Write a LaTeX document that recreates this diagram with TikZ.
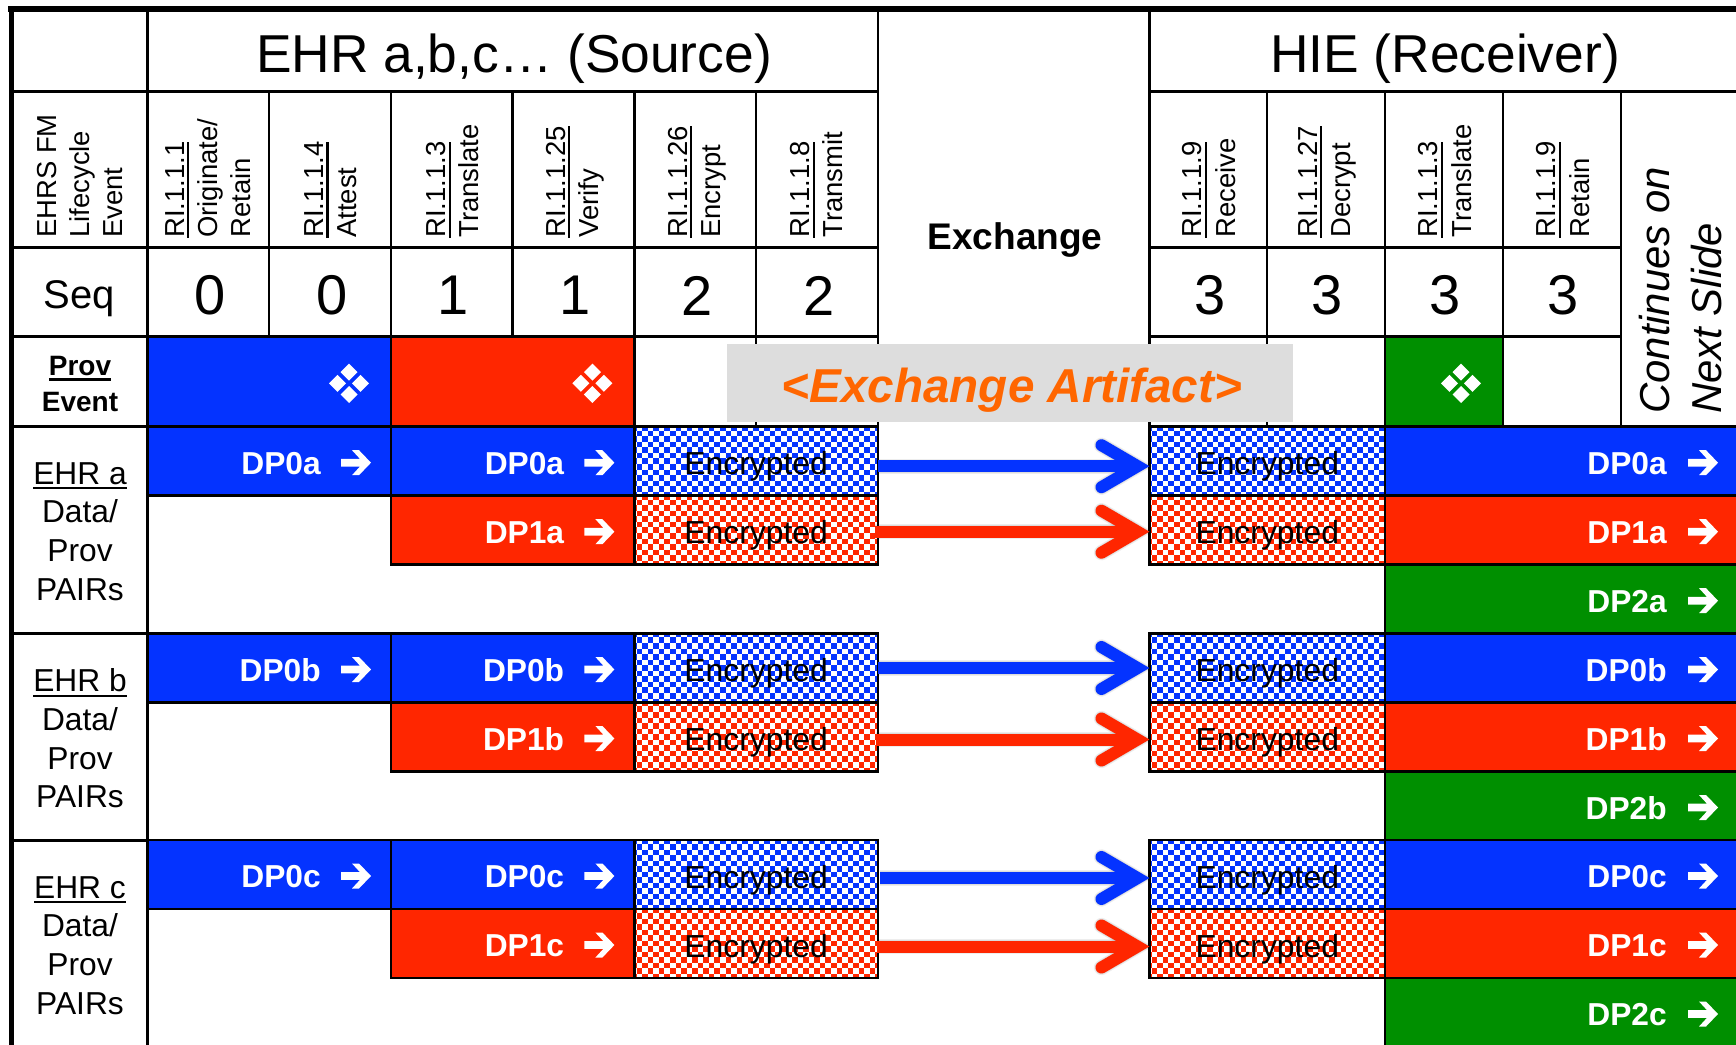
\documentclass[tikz,border=0pt]{standalone}
\usepackage{fontspec}
\setmainfont{Liberation Sans}
\usetikzlibrary{calc}
\definecolor{ablue}{HTML}{0433FF}
\definecolor{ared}{HTML}{FF2600}
\definecolor{agreen}{HTML}{008F00}
\definecolor{aorange}{HTML}{FF6600}
\definecolor{agray}{HTML}{DDDDDD}
\newsavebox\ulbox
\newcommand\ulx[1]{\sbox\ulbox{#1}\rlap{\rule[-3.8pt]{\wd\ulbox}{1.8pt}}\usebox\ulbox}
\tikzset{
  cellbox/.style={draw=black,line width=1.9pt,inner sep=0pt,outer sep=0pt},
  rotlabel/.style={rotate=90,anchor=west,align=left,inner sep=0pt,font=\fontsize{20.6}{24.8}\selectfont},
  seqnum/.style={inner sep=0pt,font=\fontsize{42}{50}\selectfont},
  headtext/.style={inner sep=0pt,font=\fontsize{40}{48}\selectfont},
  dptext/.style={inner sep=0pt,anchor=east,text=white,font=\fontsize{23.8}{28}\selectfont\bfseries},
  enctext/.style={inner sep=0pt,font=\fontsize{23.9}{28}\selectfont},
  sidetext/.style={inner sep=0pt,align=center,font=\fontsize{23.8}{29}\selectfont},
}
% name x0 y0 x1 y1 style
\newcommand\boxat[6]{%
  \pgfmathsetmacro\cellw{(#4-#2)*0.75}%
  \pgfmathsetmacro\cellh{(#5-#3)*0.75}%
  \pgfmathsetmacro\cellx{(#4+#2)/2}%
  \pgfmathsetmacro\celly{(#5+#3)/2}%
  \node[cellbox,#6,minimum width=\cellw pt,minimum height=\cellh pt] (#1) at (\cellx,\celly) {};%
}
% x0 y0 x1 colour : checker of 5.55px squares over a 69px high cell
\newcommand\checker[4]{%
  \begin{scope}
  \clip (#1,#2) rectangle (#3,#2+69);
  \foreach \k in {0,...,12}{%
    \pgfmathsetmacro\rowy{#2-1.6+2.775+5.55*\k}%
    \pgfmathtruncatemacro\odd{mod(\k,2)}%
    \ifnum\odd=1
      \draw[#4,line width=4.1625pt,dash pattern=on 4.1625pt off 4.1625pt] (#1-8.8,\rowy) -- (#3,\rowy);
    \else
      \draw[#4,line width=4.1625pt,dash pattern=on 4.1625pt off 4.1625pt,dash phase=4.1625pt] (#1-8.8,\rowy) -- (#3,\rowy);
    \fi
  }
  \end{scope}
}
\newcommand\fourdiamonds[2]{%
  \foreach \sx/\sy in {-11.5/0,11.5/0,0/-11.2,0/11.2}{%
    \fill[white] ($(#1)+(#2,1.6)+(\sx,\sy)+(-8.5,0)$) -- ++(8.5,-8.5) -- ++(8.5,8.5) -- ++(-8.5,8.5) -- cycle;
  }
}
\newcommand\whitearrow[1]{%
  \fill[white] ($(#1)+(-15,-3.8)$) -- ++(19,0) -- ++(-8,-8.7) -- ++(7,0) -- ++(12,12.5) -- ++(-12,12.5) -- ++(-7,0) -- ++(8,-8.7) -- ++(-19,0) -- cycle;
}
% from, to, start offset, dy, colour
\newcommand\bigarrow[5]{%
  \foreach \op/\lw in {0.07/11.5,0.07/10,0.07/8.5}{%
    \begin{scope}[shift={(1,3.5)}]
    \draw[black,opacity=\op,line width=\lw pt,line cap=butt] ($(#1.east)+(#3,#4)$) -- ($(#2.west)+(-14,#4)$);
    \draw[black,opacity=\op,line width=\lw pt,line cap=round,miter limit=10] ($(#2.west)+(-48,#4-21)$) -- ($(#2.west)+(-12,#4)$) -- ($(#2.west)+(-48,#4+21)$);
    \end{scope}
  }
  \draw[#5,line width=9pt] ($(#1.east)+(#3,#4)$) -- ($(#2.west)+(-14,#4)$);
  \draw[#5,line width=9pt,line cap=round,miter limit=10] ($(#2.west)+(-48,#4-21)$) -- ($(#2.west)+(-12,#4)$) -- ($(#2.west)+(-48,#4+21)$);
}
\begin{document}
\begin{tikzpicture}[x=0.75pt,y=-0.75pt]
\useasboundingbox (0,0) rectangle (1736,1045);
\fill[white] (0,0) rectangle (1736,1045);

% ---- header rows
\boxat{corner}{11}{9.5}{147.3}{91.5}{}
\boxat{srchead}{147.3}{9.5}{878}{91.5}{}
\boxat{rcvhead}{1149.5}{9.5}{1742}{91.5}{}
\node[headtext] (srctitle) at (514,59) {EHR a,b,c… (Source)};
\node[headtext] (rcvtitle) at (1445,59) {HIE (Receiver)};

\boxat{evhead}{11}{91.5}{147.3}{247.3}{}
\foreach \n/\xa/\xb in {e1/147.3/269.2,e2/269.2/391,e3/391/512.6,e4/512.6/634.4,e5/634.4/756.2,e6/756.2/878,
                        r1/1149.5/1267,r2/1267/1385,r3/1385/1503,r4/1503/1621}{
  \boxat{\n}{\xa}{91.5}{\xb}{247.3}{}
  \boxat{seq\n}{\xa}{247.3}{\xb}{336.7}{}
}
\boxat{seqhead}{11}{247.3}{147.3}{336.7}{}
\boxat{contcell}{1621}{91.5}{1742}{426.7}{}

\node[rotlabel] (tev) at (80,238) {EHRS FM\\Lifecycle\\Event};
\node[rotlabel] (t1) at (208,238) {\ulx{RI.1.1.1}\\Originate/\\Retain};
\node[rotlabel] (t2) at (331,238) {\ulx{RI.1.1.4}\\Attest};
\node[rotlabel] (t3) at (453,238) {\ulx{RI.1.1.3}\\Translate};
\node[rotlabel] (t4) at (575,238) {\ulx{RI.1.1.25}\\Verify};
\node[rotlabel] (t5) at (697,238) {\ulx{RI.1.1.26}\\Encrypt};
\node[rotlabel] (t6) at (817,238) {\ulx{RI.1.1.8}\\Transmit};
\node[rotlabel] (t7) at (1209,238) {\ulx{RI.1.1.9}\\Receive};
\node[rotlabel] (t8) at (1327,238) {\ulx{RI.1.1.27}\\Decrypt};
\node[rotlabel] (t9) at (1445,238) {\ulx{RI.1.1.3}\\Translate};
\node[rotlabel] (t10) at (1563,238) {\ulx{RI.1.1.9}\\Retain};
\node[rotate=90,anchor=west,align=left,inner sep=0pt,font=\fontsize{31.4}{39}\selectfont\itshape] (tcont) at (1681,414) {Continues on\\Next Slide};

\node[inner sep=0pt,font=\fontsize{30}{36}\selectfont] (tseq) at ($(seqhead.center)+(0,7)$) {Seq};
\foreach \n/\v in {e1/0,e2/0,e3/1,e4/1,e5/2,e6/2,r1/3,r2/3,r3/3,r4/3}{
  \node[seqnum] (num\n) at ($(seq\n.center)+(1.5,3.5)$) {\v};
}
\node[inner sep=0pt,font=\fontsize{27.8}{33}\selectfont\bfseries] (texch) at (1015,239.5) {Exchange};

% ---- prov row
\boxat{provhead}{11}{336.7}{147.3}{426.7}{}
\node[inner sep=0pt,align=center,font=\fontsize{21}{26.6}\selectfont\bfseries] (tprov) at (80,384) {\ulx{Prov}\\Event};
\boxat{pblue}{147.3}{336.7}{391}{426.7}{fill=ablue}
\boxat{pred}{391}{336.7}{634.4}{426.7}{fill=ared}
\boxat{pw1}{634.4}{336.7}{756.2}{426.7}{}
\boxat{pw2}{756.2}{336.7}{878}{426.7}{}
\boxat{pw3}{1149.5}{336.7}{1267}{426.7}{}
\boxat{pw4}{1267}{336.7}{1385}{426.7}{}
\boxat{pgreen}{1385}{336.7}{1503}{426.7}{fill=agreen}
\boxat{pw5}{1503}{336.7}{1621}{426.7}{}
\fourdiamonds{pblue.east}{-42}
\fourdiamonds{pred.east}{-42}
\fourdiamonds{pgreen.east}{-42}

% ---- data blocks
\foreach \b/\yy/\da/\db/\sa/\sb in {a/426.7/5/1.5/0/-3, b/633.5/0/2.5/0/-2, c/840/3.5/3/2/-1}{
  \pgfmathsetmacro\ya{\yy+69}
  \pgfmathsetmacro\yb{\yy+138}
  \pgfmathsetmacro\yc{\yy+207}
  \boxat{side\b}{11}{\yy}{147.3}{\yc}{}
  % source
  \boxat{s0\b}{147.3}{\yy}{391}{\ya}{fill=ablue}
  \boxat{s1\b}{391}{\yy}{634.4}{\ya}{fill=ablue}
  \boxat{s2\b}{391}{\ya}{634.4}{\yb}{fill=ared}
  \checker{634.4}{\yy}{878}{ablue}
  \checker{634.4}{\ya}{878}{ared}
  \boxat{encsb\b}{634.4}{\yy}{878}{\ya}{}
  \boxat{encsr\b}{634.4}{\ya}{878}{\yb}{}
  % receiver
  \checker{1149.5}{\yy}{1385}{ablue}
  \checker{1149.5}{\ya}{1385}{ared}
  \boxat{encrb\b}{1149.5}{\yy}{1385}{\ya}{}
  \boxat{encrr\b}{1149.5}{\ya}{1385}{\yb}{}
  \boxat{d0\b}{1385}{\yy}{1742}{\ya}{fill=ablue}
  \boxat{d1\b}{1385}{\ya}{1742}{\yb}{fill=ared}
  \boxat{d2\b}{1385}{\yb}{1742}{\yc}{fill=agreen}
  % labels
  \foreach \c/\lab in {s0/DP0,s1/DP0,s2/DP1}{
    \node[dptext] (l\c\b) at ($(\c\b.east)+(-70,2.5)$) {\lab\b};
    \whitearrow{$(\c\b.east)+(-35,1.5)$}
  }
  \foreach \c/\lab in {d0/DP0,d1/DP1,d2/DP2}{
    \node[dptext] (l\c\b) at ($(\c\b.east)+(-75,2.5)$) {\lab\b};
    \whitearrow{$(\c\b.east)+(-39,1.5)$}
  }
  \foreach \c in {encsb,encsr,encrb,encrr}{
    \node[enctext] (t\c\b) at ($(\c\b.center)+(0,5.5)$) {Encrypted};
  }
  \bigarrow{encsb\b}{encrb\b}{\sa}{\da}{ablue}
  \bigarrow{encsr\b}{encrr\b}{\sb}{\db}{ared}
}
\node[sidetext] (sa) at (80,531.5) {\ulx{EHR a}\\Data/\\Prov\\PAIRs};
\node[sidetext] (sb) at (80,738.5) {\ulx{EHR b}\\Data/\\Prov\\PAIRs};
\node[sidetext] (sc) at (80,945.5) {\ulx{EHR c}\\Data/\\Prov\\PAIRs};

% ---- exchange artifact banner
\node[fill=agray,inner sep=0pt,minimum width=424.5pt,minimum height=58.5pt] (artifact) at (1010,383) {};
\node[inner sep=0pt,text=aorange,font=\fontsize{35.7}{42}\selectfont\bfseries\itshape] (artifacttext) at (1012,390.5) {<Exchange Artifact>};

% ---- heavy frame
\coordinate (frameTL) at (11,9.5);
\coordinate (frameTR) at (1736,9.5);
\coordinate (frameBL) at (11,1045);
\draw[black,line width=4.5pt] (8,9.5) -- (frameTR);
\draw[black,line width=3.75pt] (frameTL) -- (frameBL);
\end{tikzpicture}
\end{document}
